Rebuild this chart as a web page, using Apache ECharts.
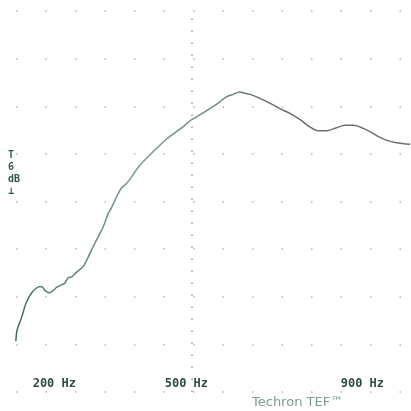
<!DOCTYPE html>
<html>
<head>
<meta charset="utf-8">
<script src="https://cdn.jsdelivr.net/npm/echarts@6/dist/echarts.min.js"></script>
<style>
  html, body { margin: 0; padding: 0; background: #fff; }
  #show { width: 411px; height: 411px; }
</style>
</head>
<body>
<div id="show"></div>
<script>
var myChart = echarts.init(document.getElementById("show"));

// frequency (Hz)
var freq = [100, 102, 105, 113, 118, 124, 136, 147, 155, 161, 166, 176, 185, 193, 204, 211, 219, 227, 238,
    253, 261, 272, 283, 295, 302, 310, 318, 329, 340, 352, 363, 374, 389, 405, 420, 435, 450, 465, 484,
    499, 518, 541, 560, 579, 594, 609, 617, 632, 655, 677, 700, 723, 746, 768, 787, 806, 829, 848, 867,
    886, 905, 923, 943, 965, 996];
// level (dB, relative to the top line)
var level = [-41.6, -40.4, -39.8, -38.6, -37.7, -36.7, -35.5, -34.9, -34.7, -34.8, -35.2, -35.5, -35.2, -34.8, -34.5, -34.3, -33.6, -33.5, -32.9,
    -32.2, -31.4, -30.1, -28.9, -27.6, -26.7, -25.5, -24.7, -23.4, -22.3, -21.7, -20.9, -20.0, -19.0, -18.1, -17.3, -16.5, -15.8, -15.2, -14.4,
    -13.7, -13.1, -12.3, -11.6, -10.8, -10.5, -10.2, -10.3, -10.5, -11.0, -11.6, -12.3, -12.9, -13.7, -14.6, -15.1, -15.1, -14.7, -14.4, -14.4,
    -14.7, -15.2, -15.8, -16.3, -16.6, -16.8];
// labelled frequencies on the bottom
var tickLabels = [200, 500, 900];

var points = freq.map(function (f, i) { return [f, level[i]]; });

myChart.setOption(option = {
    animation: false,
    backgroundColor: '#fff',
    grid: {
        left: 0,
        right: 0,
        top: 11,
        bottom: 19
    },
    xAxis: {
        type: 'value',
        // the plot window is cropped, so the edges are not round numbers
        min: 64,
        max: 998,
        splitNumber: 10,
        axisLine: { show: false },
        axisTick: { show: false },
        splitLine: { show: false },
        axisLabel: {
            inside: true,
            margin: 2,
            padding: [0, 11, 0, 0],
            color: '#2d4f45',
            fontFamily: 'DejaVu Sans Mono',
            fontWeight: 'bold',
            fontSize: 12,
            showMinLabel: false,
            showMaxLabel: false,
            formatter: function (v) {
                return tickLabels.indexOf(v) >= 0 ? v + ' Hz' : '';
            }
        }
    },
    yAxis: {
        type: 'value',
        min: -48,
        max: 0,
        interval: 6,
        axisLine: { show: false },
        axisTick: { show: false },
        axisLabel: { show: false },
        splitLine: {
            show: true,
            lineStyle: {
                color: '#b5b5b5',
                width: 1.5,
                type: [1.5, 28],
                dashOffset: -16
            }
        }
    },
    graphic: [
        {
            type: 'text',
            left: 8,
            top: 149,
            style: {
                text: 'T\n6\ndB\n⊥',
                fill: '#2f5a4c',
                font: 'bold 10px "DejaVu Sans Mono"',
                lineHeight: 12,
                align: 'center'
            }
        },
        {
            type: 'text',
            left: 252,
            top: 396,
            style: {
                text: 'Techron TEF™',
                fill: '#7c9c94',
                font: '13px "DejaVu Sans"'
            }
        }
    ],
    series: [
        {
            type: 'line',
            data: points,
            showSymbol: false,
            smooth: 0.3,
            lineStyle: {
                width: 1.5,
                color: new echarts.graphic.LinearGradient(0, 0, 1, 0, [
                    { offset: 0, color: '#3f6e60' },
                    { offset: 0.3, color: '#7a9c92' },
                    { offset: 0.5, color: '#6f8a82' },
                    { offset: 0.65, color: '#666b69' },
                    { offset: 1, color: '#707070' }
                ])
            },
            markLine: {
                silent: true,
                symbol: 'none',
                label: { show: false },
                lineStyle: {
                    color: '#9a9a9a',
                    width: 1.5,
                    type: [1.5, 10.5]
                },
                data: [{ xAxis: 500 }]
            }
        }
    ]
});
</script>
</body>
</html>
